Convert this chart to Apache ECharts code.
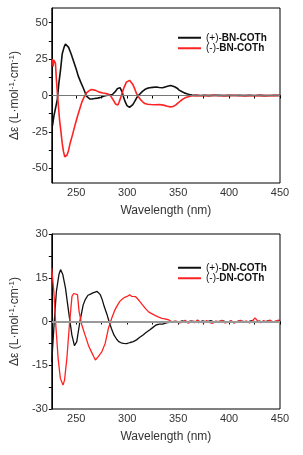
<!DOCTYPE html>
<html><head><meta charset="utf-8">
<script src="https://cdn.jsdelivr.net/npm/echarts@6/dist/echarts.min.js"></script>
<style>html,body{margin:0;padding:0;background:#fff}#c{width:303px;height:455px}</style>
</head><body><div id="c"></div>
<script>
// ---- Top panel: BN-COTh ----
const bnPlusWl = [226.7,228,229.8,231.4,233,234.5,236.2,238,239.4,241,242.5,245,247.3,250,252,254.5,256.8,258.5,260,261.5,263.2,265.5,268,271,274.4,277.5,280.7,283,285.5,287,288.7,290.3,291.8,293,294,295.3,296.6,298.2,299.8,301,302.3,303.8,305.5,307.4,309.3,311,312.5,315,317.3,319.5,322,325,328.5,331.5,334.8,338,340.5,342.7,344.5,346.5,349,351,353.5,356,358.5,361,363.5,365.6,368,372,376,380,385,390,395,400,405,410,415,420,425,430,435,440,445,450];
const bnPlusVal = [-20.7,-14.3,-15,-2.8,8.8,17,28.4,33,35.3,34.6,33,28.5,23.7,18,13.3,9,5.3,2.4,-0.5,-1.8,-2.3,-2.4,-2.1,-1.8,-1.2,-0.4,0.2,0.5,0.7,1.6,3,4.6,5.8,5.4,4.6,2,-1.6,-4.6,-6.9,-7.8,-8.1,-7.6,-6.2,-4,-1.6,0,1.1,2.8,4.1,4.9,5.3,5.6,5.8,5.5,5.3,6,6.5,6.9,6.7,6,5,3.7,2.7,1.8,1.2,0.7,0.3,0.1,0.2,0,0.2,-0.1,0.1,0.2,-0.1,0.1,0,0.2,-0.1,0.1,0,0.1,-0.1,0,0.1,0];
const bnMinusWl = [226.7,227.3,228,228.8,229.6,230.5,231.7,233.6,235,236.2,237.5,238.7,240,241,242.5,244,246.5,248.9,251.3,253.7,255.8,257.8,260,262.5,264.8,266.5,268,270.5,272.8,276,279,281.5,284,285.5,287,288.5,289.6,290.8,291.8,293.5,295,297,299.2,300.8,302.3,303.8,305.5,307.4,309.3,311.2,313.1,315.2,317.3,320,323.6,327.5,331.6,335.5,339.5,342.5,345,347.5,350,352.5,355,357.5,360,362.5,365,368,372,376,380,385,390,395,400,405,410,415,420,425,430,435,440,445,450];
const bnMinusVal = [25,20,24.3,23,22,11,-0.4,-16.6,-25,-32.7,-38.5,-42,-42.3,-40.8,-37.5,-32.7,-26.5,-20,-14,-8.5,-4,-0.9,1.8,3.2,4.1,4,3.7,3,2.3,1.7,1.4,1,-0.5,-1.8,-3.9,-5.8,-6.9,-6.5,-5,-1.8,1.8,5.6,9.2,10.2,10.4,9.4,7.6,4.5,1.1,-1,-2.8,-4.3,-5.5,-6,-6.2,-6.3,-6.2,-6.6,-7.4,-7.8,-7.5,-6.6,-5,-3.6,-2.3,-1.4,-0.8,-0.4,-0.1,0.1,-0.2,0,-0.1,0.2,-0.2,0,-0.1,0.2,-0.2,0,-0.1,-0.2,0.1,-0.1,0,-0.1,0.1];

// ---- Bottom panel: DN-COTh ----
const dnPlusWl = [226,228.2,230.5,233,234.6,236.8,239.4,242.5,245.7,248.2,250.5,253.6,256.8,259,261.5,264,266.3,268.5,270.5,272,273.6,275.5,277.4,280,282.2,284.5,287,289.5,291.7,294,296.5,299.5,302.9,306,309.2,312,315.6,318.5,322,325,328.3,331.5,334.7,338.5,342.6,346,350,354,358,362,366,370,374,378,382,386,390,394,398,402,406,410,414,418,422,426,430,434,438,442,446,450];
const dnPlusVal = [-13.8,-1.1,10.3,16.1,17.8,16.1,11.5,3.4,-4.6,-8.3,-6.9,0,5.7,7.6,9,9.4,9.8,10.1,10.3,10,9.2,7.5,5.2,2.6,0,-2.4,-4.6,-6,-6.9,-7.3,-7.5,-7.6,-7.2,-6.9,-6.3,-5.5,-4.6,-3.8,-2.9,-2.1,-1.2,-0.9,-0.9,-0.5,-0.2,0,-0.3,0.2,-0.2,0.1,0,-0.4,0.2,-0.1,0.3,-0.3,0,0.2,-0.2,0.1,-0.3,0.2,0,-0.2,0.3,-0.1,0.1,-0.3,0.2,0,-0.2,0.3];
const dnMinusWl = [225.9,228,229.9,232.2,234.4,237,238.5,240.8,243.3,245.8,247.5,249,251.2,252.8,255.4,258.6,262.4,265,267.2,268.8,271.4,273,275.2,278.4,281.6,284.8,288,290.5,292.8,295,297.6,300,302.4,304.6,306.5,308.3,310.2,312.5,315,318,321.3,324.5,327.7,331,334.1,337,340.5,344.5,348,351,354,357,360,363,366,369,372,375,378,381,384,387,390,393,396,399,402,405,408,411,414,417,420,423,425.5,428,431,434,437,440,443,446,450];
const dnMinusVal = [18.4,10.3,-1.1,-12.6,-19.5,-21.8,-20.1,-12.6,-1.1,8.6,9.6,9.8,9.2,3.4,-1.1,-4.6,-8.6,-10.5,-12.1,-13.2,-12.1,-11.4,-10.3,-7.5,-2.3,1.1,4,5.6,6.9,7.6,8.3,8.6,9.2,8.6,9.2,8.5,7.8,6.8,5.7,4.4,3.2,2.6,2,1.5,1.1,0.9,0.6,-0.2,0.2,-0.5,-0.3,0.4,-0.6,0.2,-0.4,0.5,-0.2,-0.5,0.3,-0.4,-0.6,0.2,-0.3,0.4,-0.5,-0.2,0.3,-0.6,0,0.4,-0.3,0.2,-0.5,0.3,1.2,0.2,-0.4,0.3,-0.2,0.5,-0.3,0.2,0.6];

const xTicks = [250,275,300,325,350,375,400,425,450];
const xLabels = [250,300,350,400,450];
const topYTicks = [-50,-37.5,-25,-12.5,0,12.5,25,37.5,50];
const topYLabels = [-50,-25,0,25,50];
const botYTicks = [-30,-22.5,-15,-7.5,0,7.5,15,22.5,30];
const botYLabels = [-30,-15,0,15,30];

const zip = (a, b) => a.map((v, i) => [v, b[i]]);

const FONT = 'Liberation Sans, Arial, sans-serif';
const chart = echarts.init(document.getElementById('c'), null, {renderer: 'canvas'});

const yName = {
  name: '{n|Δε (L·mol}{s|-1}{n|·cm}{s|-1}{n|)}',
  nameLocation: 'middle',
  nameGap: 18,
  nameRotate: 90,
  nameTextStyle: {rich: {
    n: {fontFamily: FONT, fontSize: 12, color: '#333'},
    s: {fontFamily: FONT, fontSize: 8, color: '#333', verticalAlign: 'top', padding: [0,0,6,0]}
  }}
};

function xAxis(gi) {
  return {
    type: 'value', gridIndex: gi, min: 226, max: 450,
    name: 'Wavelength (nm)', nameLocation: 'middle', nameGap: 22,
    nameTextStyle: {fontFamily: FONT, fontSize: 12, color: '#333'},
    axisLine: {lineStyle: {color: '#000', width: 1}},
    axisTick: {show: true, length: 3, inside: false, customValues: xTicks, lineStyle: {color: '#000'}},
    axisLabel: {fontFamily: FONT, fontSize: 11, color: '#333', margin: 4, customValues: xLabels},
    splitLine: {show: false}
  };
}
function yAxis(gi, mn, mx, ticks, labels) {
  return Object.assign({
    type: 'value', gridIndex: gi, min: mn, max: mx,
    axisLine: {show: true, lineStyle: {color: '#000', width: 1}},
    axisTick: {show: true, length: 3, inside: false, customValues: ticks, lineStyle: {color: '#000'}},
    axisLabel: {fontFamily: FONT, fontSize: 11, color: '#333', margin: 4, customValues: labels},
    splitLine: {show: false}
  }, yName);
}
function line(name, data, color, xi, width) {
  return {
    name, type: 'line', xAxisIndex: xi, yAxisIndex: xi, data,
    symbol: 'none', smooth: false, lineStyle: {color, width}, itemStyle: {color},
    z: 3, animation: false
  };
}
function zeroLine(xi, color, width) {
  return {
    type: 'line', xAxisIndex: xi, yAxisIndex: xi, data: [], silent: true, animation: false,
    markLine: {silent: true, symbol: 'none', label: {show: false},
      lineStyle: {color, width, type: 'solid'}, data: [{yAxis: 0}]},
    z: 1
  };
}
const legendRich = {
  r: {fontFamily: FONT, fontSize: 10, color: '#111'},
  b: {fontFamily: FONT, fontSize: 10, fontWeight: 'bold', color: '#111'}
};
function legend(names, left, top) {
  return {
    data: names.map(n => ({name: n, icon: 'rect'})), orient: 'vertical', left, top,
    padding: 0,
    itemWidth: 23, itemHeight: 2, itemGap: 0,
    textStyle: {rich: legendRich, lineHeight: 10.5},
    formatter: n => '{r|' + n.slice(0, 4) + '}{b|' + n.slice(4) + '}',
    selectedMode: false
  };
}

chart.setOption({
  backgroundColor: '#fff',
  animation: false,
  grid: [
    {left: 46, right: 23, top: 8, height: 175, show: true, borderColor: '#000', borderWidth: 1, backgroundColor: 'transparent'},
    {left: 46, right: 23, top: 234, height: 175, show: true, borderColor: '#000', borderWidth: 1, backgroundColor: 'transparent'}
  ],
  xAxis: [xAxis(0), xAxis(1)],
  yAxis: [yAxis(0, -60, 60, topYTicks, topYLabels), yAxis(1, -30, 30, botYTicks, botYLabels)],
  legend: [
    legend(['(+)-BN-COTh', '(-)-BN-COTh'], 178, 32.5),
    legend(['(+)-DN-COTh', '(-)-DN-COTh'], 178, 262.5)
  ],
  series: [
    zeroLine(0, '#777', 1),
    zeroLine(1, '#999', 2),
    line('(+)-BN-COTh', zip(bnPlusWl, bnPlusVal), '#111', 0, 1.6),
    line('(-)-BN-COTh', zip(bnMinusWl, bnMinusVal), '#f22', 0, 1.6),
    line('(+)-DN-COTh', zip(dnPlusWl, dnPlusVal), '#111', 1, 1.3),
    line('(-)-DN-COTh', zip(dnMinusWl, dnMinusVal), '#f22', 1, 1.3)
  ]
});
</script>
</body></html>
